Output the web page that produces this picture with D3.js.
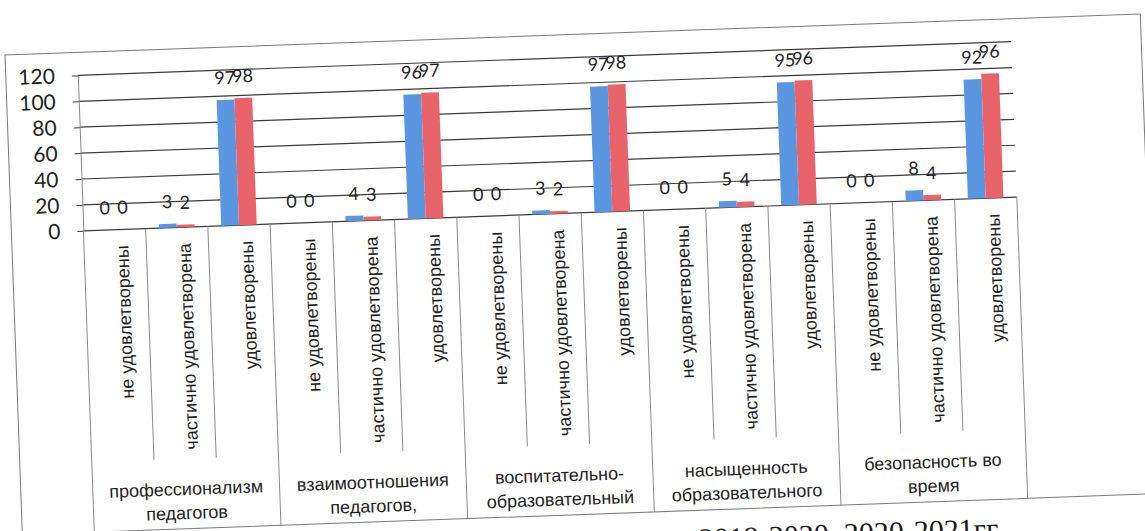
<!DOCTYPE html>
<html>
<head>
<meta charset="utf-8">
<script src="https://cdn.jsdelivr.net/npm/d3@7"></script>
<style>
	body { margin: 0; background: #fff; }
	svg { display: block; }
</style>
</head>
<body>
<div id="chart"></div>
<script>
// data
const groups = [
	["профессионализм", "педагогов"],
	["взаимоотношения", "педагогов,"],
	["воспитательно-", "образовательный"],
	["насыщенность", "образовательного"],
	["безопасность во", "время"]
];
const levels = ["не удовлетворены", "частично удовлетворена", "удовлетворены"];
const year1 = [0, 3, 97, 0, 4, 96, 0, 3, 97, 0, 5, 95, 0, 8, 92];
const year2 = [0, 2, 98, 0, 3, 97, 0, 2, 98, 0, 4, 96, 0, 4, 96];
const yTicks = [0, 20, 40, 60, 80, 100, 120];
const caption = "2019-2020, 2020-2021гг";

const colors = ["#5b96e0", "#e8646a"];
const width = 1145, height = 531;

const svg = d3.select("#chart").append("svg")
	.attr("width", width)
	.attr("height", height);

// the scan is slightly tilted, so everything sits in one rotated group
const page = svg.append("g")
	.attr("transform", "translate(5,55) rotate(-2.07)");

const plotLeft = 72, plotRight = 1006, plotTop = 23, base = 178.5;
const innerBottom = 410, tableBottom = 480;

// chart area border
page.append("rect")
	.attr("x", 0).attr("y", 0)
	.attr("width", 1136).attr("height", tableBottom)
	.attr("fill", "none")
	.attr("stroke", "#7a7a7a");

const cats = d3.range(groups.length * levels.length);
const x = d3.scaleBand().domain(cats).range([plotLeft, plotRight]);
const xs = d3.scaleBand().domain([0, 1]).range([0, x.bandwidth()]).paddingOuter(0.75);
const y = d3.scaleLinear().domain([0, 120]).range([base, plotTop]);

// gridlines
page.selectAll("line.grid")
	.data(yTicks)
	.enter().append("line")
	.attr("class", "grid")
	.attr("x1", plotLeft)
	.attr("x2", plotRight)
	.attr("y1", y)
	.attr("y2", y)
	.style("stroke", "#3a3a3a")
	.style("stroke-width", 1.2);

// value axis
const yAxis = d3.axisLeft(y).tickValues(yTicks).tickSizeInner(6).tickSizeOuter(0).tickPadding(17);
const ya = page.append("g")
	.attr("class", "y axis")
	.attr("transform", "translate(" + plotLeft + ",0)")
	.call(yAxis);
ya.select(".domain").style("stroke", "#888");
ya.selectAll(".tick line").style("stroke", "#3a3a3a");
ya.selectAll(".tick text")
	.style("font-family", "Lato, sans-serif")
	.style("font-size", "21px")
	.style("fill", "#222");

// bars
const series = [year1, year2];
series.forEach((values, s) => {
	page.selectAll("rect.s" + s)
		.data(values)
		.enter().append("rect")
		.attr("class", "s" + s)
		.attr("x", (d, i) => x(i) + xs(s))
		.attr("width", xs.bandwidth())
		.attr("y", d => y(d))
		.attr("height", d => base - y(d))
		.style("fill", colors[s]);
});

// data labels
series.forEach((values, s) => {
	page.selectAll("text.l" + s)
		.data(values)
		.enter().append("text")
		.attr("class", "l" + s)
		.attr("x", (d, i) => x(i) + xs(s) + xs.bandwidth() / 2)
		.attr("y", d => y(d) - 22)
		.attr("dy", "0.35em")
		.attr("text-anchor", "middle")
		.style("font-family", "Lato, sans-serif")
		.style("font-size", "18px")
		.style("fill", "#222")
		.text(d => d);
});

// category table: separators
const edges = cats.map(i => x(i)).concat([plotRight]);
page.selectAll("line.sep")
	.data(edges)
	.enter().append("line")
	.attr("class", "sep")
	.attr("x1", d => d)
	.attr("x2", d => d)
	.attr("y1", base)
	.attr("y2", (d, i) => i % levels.length === 0 ? tableBottom : innerBottom)
	.style("stroke", "#8a8a8a");

// inner category labels
page.selectAll("text.cat")
	.data(cats)
	.enter().append("text")
	.attr("class", "cat")
	.attr("transform", d => "translate(" + (x(d) + x.bandwidth() / 2 + 7) + "," + (base + 16) + ") rotate(-90)")
	.attr("dy", "0.35em")
	.attr("text-anchor", "end")
	.style("font-family", "'Liberation Sans', Arial, sans-serif")
	.style("font-size", "18px")
	.style("fill", "#1e1e1e")
	.text(d => levels[d % levels.length]);

// group labels
const groupWidth = x.step() * levels.length;
const gl = page.selectAll("text.group")
	.data(groups)
	.enter().append("text")
	.attr("class", "group")
	.attr("text-anchor", "middle")
	.style("font-family", "'Liberation Sans', Arial, sans-serif")
	.style("font-size", "18px")
	.style("fill", "#1e1e1e");
gl.selectAll("tspan")
	.data((d, i) => d.map(line => ({line, i})))
	.enter().append("tspan")
	.attr("x", d => plotLeft + groupWidth * (d.i + 0.5))
	.attr("y", (d, j) => 440 + j * 24)
	.attr("dy", "0.35em")
	.text(d => d.line);

// document caption under the chart, cut off by the page edge as in the scan
page.append("text")
	.attr("x", 676)
	.attr("y", 519)
	.style("font-family", "'Liberation Serif', 'Times New Roman', serif")
	.style("font-size", "30px")
	.style("fill", "#1a1a1a")
	.text(caption);
</script>
</body>
</html>
